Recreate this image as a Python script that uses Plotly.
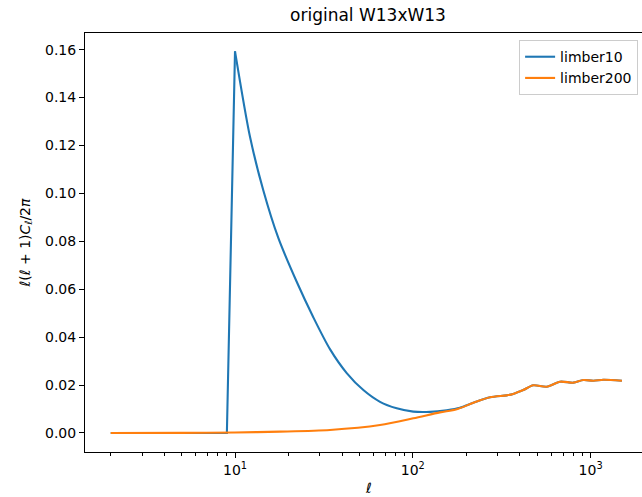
import numpy as np
import plotly.graph_objects as go

# ---- data ----
ell_blue = [2, 5, 8, 9, 10, 12.15, 14.42, 17.5, 22.2, 27.6, 34.2, 42.5, 52.7, 65.4, 81.2,
            100.6, 125, 155, 184, 219, 272, 337, 367, 418, 476, 566, 673, 800, 910,
            1036, 1180, 1500]
cl_blue = [0.0, 0.0, 0.0, 0.0, 0.1593, 0.1235, 0.1013, 0.0815, 0.0632, 0.0482, 0.0350,
           0.0250, 0.0179, 0.0130, 0.0103, 0.0089, 0.0088, 0.0095, 0.0105, 0.0126,
           0.0149, 0.0157, 0.0163, 0.0179, 0.0199, 0.0193, 0.0214, 0.0210, 0.0221,
           0.0218, 0.0222, 0.0218]

ell_orange = [2, 5, 10, 17.9, 34.2, 65.4, 100.6, 142, 176.6, 219, 272, 337, 367, 418,
              476, 566, 673, 800, 910, 1036, 1180, 1500]
cl_orange = [0.0, 0.00002, 0.0002, 0.00055, 0.00125, 0.0033, 0.0061, 0.0086, 0.0099,
             0.0126, 0.0149, 0.0157, 0.0163, 0.0179, 0.0199, 0.0193, 0.0214, 0.0210,
             0.0221, 0.0218, 0.0222, 0.0218]

series_names = ["limber10", "limber200"]
y_ticks = [0.00, 0.02, 0.04, 0.06, 0.08, 0.10, 0.12, 0.14, 0.16]
x_major = [10, 100, 1000]
x_major_text = ["10<sup>1</sup>", "10<sup>2</sup>", "10<sup>3</sup>"]
x_minor = [m * 10 ** e for e in range(0, 4) for m in range(2, 10) if m * 10 ** e < 3000]

FONT = "DejaVu Sans"
BLUE, ORANGE = "#1f77b4", "#ff7f0e"

peak = ell_blue.index(10)

fig = go.Figure()
# sharp rise part of limber10 (straight segments)
fig.add_trace(go.Scatter(x=ell_blue[:peak + 1], y=cl_blue[:peak + 1], mode="lines",
                         name=series_names[0], legendgroup="b",
                         line=dict(color=BLUE, width=2.1)))
# smooth decay part of limber10
fig.add_trace(go.Scatter(x=ell_blue[peak:], y=cl_blue[peak:], mode="lines",
                         name=series_names[0], legendgroup="b", showlegend=False,
                         line=dict(color=BLUE, width=2.1, shape="spline", smoothing=0.8)))
fig.add_trace(go.Scatter(x=ell_orange, y=cl_orange, mode="lines", name=series_names[1],
                         line=dict(color=ORANGE, width=2.1, shape="spline", smoothing=0.8)))

W, H = 642, 497
L, R, T, B = 85, 0, 33, 45

fig.update_layout(
    width=W, height=H,
    margin=dict(l=L, r=R, t=T, b=B),
    paper_bgcolor="white", plot_bgcolor="white",
    font=dict(family=FONT, size=14, color="black"),
    title=dict(text="original W13xW13", font=dict(size=17, family=FONT),
               x=368 / W, xref="container", xanchor="center",
               y=1 - 15 / H, yref="container", yanchor="middle"),
    showlegend=True,
    legend=dict(x=0.993, y=0.983, xanchor="right", yanchor="top",
                bordercolor="#cccccc", borderwidth=1, bgcolor="rgba(255,255,255,0.8)",
                font=dict(size=14, family=FONT), tracegroupgap=0),
)

fig.update_xaxes(
    type="log", range=[0.1563, 3.289],
    tickvals=x_major, ticktext=x_major_text,
    ticks="outside", ticklen=5, tickwidth=1.1, tickcolor="black",
    showline=True, linecolor="black", linewidth=1.1, mirror=True,
    showgrid=False, zeroline=False,
    tickfont=dict(size=14, family=FONT),
    minor=dict(tickvals=x_minor, ticks="outside", ticklen=3, tickwidth=0.8,
               tickcolor="black", showgrid=False),
)
fig.update_yaxes(
    range=[-0.00795, 0.16695],
    tickvals=y_ticks, tickformat=".2f",
    ticks="outside", ticklen=5, tickwidth=1.1, tickcolor="black",
    showline=True, linecolor="black", linewidth=1.1,
    showgrid=False, zeroline=False,
    tickfont=dict(size=14, family=FONT),
)

plot_w = W - L - R
plot_h = H - T - B
fig.add_annotation(text="<i>ℓ</i>(<i>ℓ</i> + 1)<i>C</i><sub><i>ℓ</i></sub>/2<i>π</i>",
                   xref="paper", yref="paper",
                   x=(25 - L) / plot_w, y=0.5, textangle=-90,
                   showarrow=False, xanchor="center", yanchor="middle",
                   font=dict(size=14, family=FONT))
fig.add_annotation(text="<i>ℓ</i>", xref="paper", yref="paper",
                   x=(368 - L) / plot_w, y=-(488 - (H - B)) / plot_h,
                   showarrow=False, xanchor="center", yanchor="middle",
                   font=dict(size=14, family=FONT))

fig.write_html("out.html")
